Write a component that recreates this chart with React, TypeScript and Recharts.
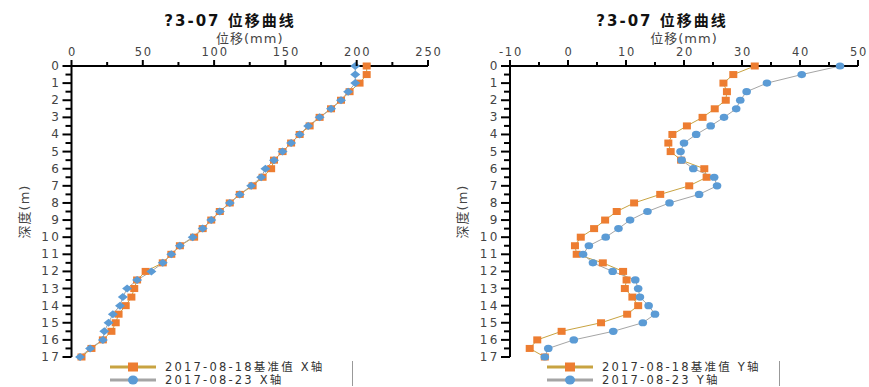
import { LineChart, Line, XAxis, YAxis, Legend } from 'recharts';

// depth (m), one reading every 0.5 m
const depths = [
  0, 0.5, 1, 1.5, 2, 2.5, 3, 3.5, 4, 4.5, 5, 5.5, 6, 6.5, 7, 7.5, 8, 8.5,
  9, 9.5, 10, 10.5, 11, 11.5, 12, 12.5, 13, 13.5, 14, 14.5, 15, 15.5, 16, 16.5, 17,
];

// X direction displacement (mm)
const xBase = [
  207, 207, 202, 195, 189, 182, 174, 167, 160, 154, 148, 142, 140, 134, 127, 118, 111, 104,
  98, 92, 86, 76, 70, 64, 52, 46, 44, 42, 38, 33, 31, 28, 22, 14, 7,
];
const xNow = [
  199, 199, 199, 194, 189, 182, 174, 166, 160, 154, 148, 142, 136, 133, 126, 118, 111, 104,
  98, 92, 85, 76, 70, 64, 56, 46, 39, 36, 34, 29, 26, 23, 22, 13, 6,
];

// Y direction displacement (mm)
const yBase = [
  32.2, 28.5, 26.8, 27.4, 27.2, 25.3, 23.2, 20.5, 18.0, 17.3, 17.7, 19.5, 23.5, 23.9, 20.9, 15.9, 11.4, 8.4,
  6.4, 4.5, 2.2, 1.2, 1.5, 6.0, 9.5, 10.1, 9.8, 11.1, 12.1, 10.2, 5.7, -1.1, -5.3, -6.6, -4.0,
];
const yNow = [
  46.9, 40.3, 34.3, 30.8, 29.7, 29.0, 26.9, 24.6, 22.1, 20.0, 19.4, 19.6, 21.6, 25.2, 25.7, 22.6, 17.5, 13.7,
  10.7, 8.7, 6.5, 3.6, 2.6, 4.3, 7.7, 11.6, 12.1, 12.4, 13.9, 15.0, 12.9, 7.8, 1.0, -3.4, -4.0,
];

const xTicksLeft = [0, 25, 50, 75, 100, 125, 150, 175, 200, 225, 250];
const xTicksRight = [-10, -5, 0, 5, 10, 15, 20, 25, 30, 35, 40, 45, 50];

const chartTitle = '?3-07 位移曲线';
const xLabel = '位移(mm)';
const yLabel = '深度(m)';

const FONT = '"DejaVu Sans", "Noto Sans CJK SC", sans-serif';
const ORANGE = '#ED7D31';
const BLUE = '#5B9BD5';
const BASE_LINE = '#C8A341';
const NOW_LINE = '#A5A5A5';

const leftData = depths.map((d, i) => ({ depth: d, base: xBase[i], now: xNow[i] }));
const rightData = depths.map((d, i) => ({ depth: d, base: yBase[i], now: yNow[i] }));

const makeXTick = (major: number) =>
  function XTick(props: any) {
    const { x, y, payload } = props;
    const isMajor = Math.abs(payload.value % major) < 1e-6;
    return (
      <g>
        <line x1={x} x2={x} y1={y} y2={y - (isMajor ? 6 : 4)} stroke="#000" strokeWidth={2} />
        {isMajor && (
          <text x={x + 1} y={y - 10} textAnchor="middle" fontFamily={FONT} fontSize={11.5} letterSpacing={1.8} fill="#444">
            {payload.value}
          </text>
        )}
      </g>
    );
  };

function YTick(props: any) {
  const { x, y, payload } = props;
  const isMajor = Number.isInteger(payload.value);
  return (
    <g>
      <line x1={x} x2={x - (isMajor ? 9 : 6)} y1={y} y2={y} stroke="#000" strokeWidth={2} />
      {isMajor && (
        <text x={x - 10} y={y} textAnchor="end" dominantBaseline="central" fontFamily={FONT} fontSize={12} letterSpacing={2.5} fill="#444">
          {payload.value}
        </text>
      )}
    </g>
  );
}

const squareDot = (p: any) => (
  <rect key={`sq-${p.index}`} x={p.cx - 4} y={p.cy - 3.5} width={8} height={7} fill={ORANGE} />
);
const diamondDot = (p: any) => (
  <polygon
    key={`dm-${p.index}`}
    points={`${p.cx - 5},${p.cy} ${p.cx},${p.cy - 4} ${p.cx + 5},${p.cy} ${p.cx},${p.cy + 4}`}
    fill={BLUE}
  />
);
const circleDot = (p: any) => (
  <ellipse key={`ci-${p.index}`} cx={p.cx} cy={p.cy} rx={4.3} ry={3.6} fill={BLUE} />
);

function SeriesLegend({ payload }: { payload?: any[] }) {
  if (!payload) return null;
  return (
    <div style={{ paddingLeft: 8, borderRight: '1px solid #999', fontFamily: FONT, fontSize: 11.5, lineHeight: '12.5px', color: '#333', letterSpacing: 2.2 }}>
      {payload.map((entry) => (
        <div key={entry.value} style={{ display: 'flex', alignItems: 'center', height: 12.5, whiteSpace: 'nowrap' }}>
          <svg width={50} height={12} style={{ marginRight: 7, flex: 'none' }}>
            <line x1={2} x2={48} y1={6} y2={6} stroke={entry.color} strokeWidth={3} />
            {entry.dataKey === 'base' ? (
              <rect x={20} y={1.5} width={10} height={9} fill={ORANGE} />
            ) : (
              <ellipse cx={25} cy={6} rx={5} ry={4.5} fill={BLUE} />
            )}
          </svg>
          <span>{entry.value}</span>
        </div>
      ))}
    </div>
  );
}

function Title({ center }: { center: number }) {
  return (
    <div
      style={{
        position: 'absolute',
        left: center - 120,
        top: 13,
        width: 240,
        height: 17,
        lineHeight: '17px',
        textAlign: 'center',
        fontFamily: FONT,
        fontWeight: 'bold',
        fontSize: 15,
        letterSpacing: 2,
        color: '#111',
      }}
    >
      {chartTitle}
    </div>
  );
}

const labelStyle = { fontFamily: FONT, fontSize: 13, fill: '#444', letterSpacing: 1 };

export default function App() {
  return (
    <div style={{ position: 'absolute', left: 0, top: 0, width: 869, height: 387, background: '#fff', overflow: 'hidden' }}>
      <Title center={230} />
      <Title center={662} />

      <div style={{ position: 'absolute', left: 0, top: 0 }}>
        <LineChart layout="vertical" width={452} height={387} data={leftData} margin={{ top: 32, right: 24, bottom: 30, left: 11.5 }}>
          <XAxis
            type="number"
            orientation="top"
            domain={[0, 250]}
            ticks={xTicksLeft}
            interval={0}
            height={34}
            tickSize={0}
            tickMargin={0}
            tickLine={false}
            axisLine={{ stroke: '#000', strokeWidth: 2 }}
            tick={makeXTick(50)}
            label={{ value: xLabel, position: 'insideTop', offset: 2, style: labelStyle }}
          />
          <YAxis
            type="number"
            dataKey="depth"
            domain={[0, 17]}
            ticks={depths}
            interval={0}
            width={60}
            tickSize={0}
            tickMargin={0}
            tickLine={false}
            axisLine={{ stroke: '#000', strokeWidth: 2 }}
            tick={YTick}
            label={{ value: yLabel, angle: -90, position: 'insideLeft', offset: 13, style: { ...labelStyle, textAnchor: 'middle' } }}
          />
          <Line dataKey="base" name="2017-08-18基准值 X轴" stroke={BASE_LINE} strokeWidth={1} dot={squareDot} activeDot={false} isAnimationActive={false} />
          <Line dataKey="now" name="2017-08-23 X轴" stroke={NOW_LINE} strokeWidth={1} dot={diamondDot} activeDot={false} isAnimationActive={false} />
          <Legend
            layout="horizontal"
            verticalAlign="middle"
            align="center"
            content={<SeriesLegend />}
            wrapperStyle={{ left: 100, top: 361, width: 253 }}
          />
        </LineChart>
      </div>

      <div style={{ position: 'absolute', left: 430, top: 0 }}>
        <LineChart layout="vertical" width={439} height={387} data={rightData} margin={{ top: 32, right: 11, bottom: 30, left: 20 }}>
          <XAxis
            type="number"
            orientation="top"
            domain={[-10, 50]}
            ticks={xTicksRight}
            interval={0}
            height={34}
            tickSize={0}
            tickMargin={0}
            tickLine={false}
            axisLine={{ stroke: '#000', strokeWidth: 2 }}
            tick={makeXTick(10)}
            label={{ value: xLabel, position: 'insideTop', offset: 2, style: labelStyle }}
          />
          <YAxis
            type="number"
            dataKey="depth"
            domain={[0, 17]}
            ticks={depths}
            interval={0}
            width={60}
            tickSize={0}
            tickMargin={0}
            tickLine={false}
            axisLine={{ stroke: '#000', strokeWidth: 2 }}
            tick={YTick}
            label={{ value: yLabel, angle: -90, position: 'insideLeft', offset: 12, style: { ...labelStyle, textAnchor: 'middle' } }}
          />
          <Line dataKey="base" name="2017-08-18基准值 Y轴" stroke={BASE_LINE} strokeWidth={1} dot={squareDot} activeDot={false} isAnimationActive={false} />
          <Line dataKey="now" name="2017-08-23 Y轴" stroke={NOW_LINE} strokeWidth={1} dot={circleDot} activeDot={false} isAnimationActive={false} />
          <Legend
            layout="horizontal"
            verticalAlign="middle"
            align="center"
            content={<SeriesLegend />}
            wrapperStyle={{ left: 107, top: 361, width: 243 }}
          />
        </LineChart>
      </div>
    </div>
  );
}
